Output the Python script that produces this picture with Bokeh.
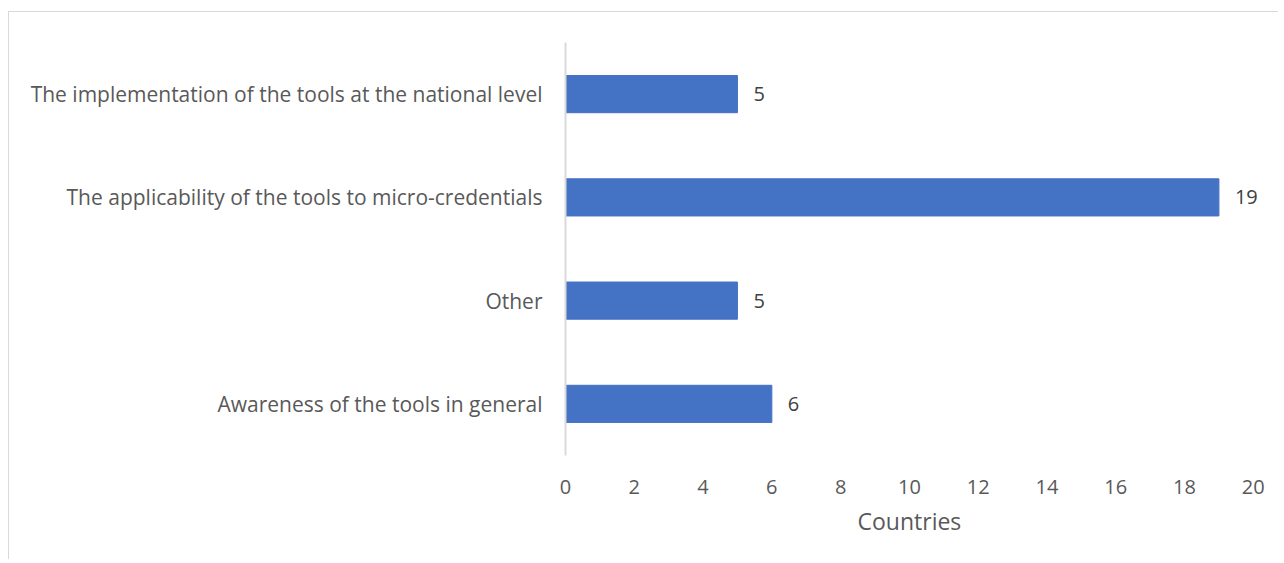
from bokeh.plotting import figure
from bokeh.models import Range1d, FixedTicker, ColumnDataSource, LabelSet, Title
from bokeh.core.properties import value
from bokeh.embed import file_html
from bokeh.resources import INLINE

categories = [
    "Awareness of the tools in general",
    "Other",
    "The applicability of the tools to micro-credentials",
    "The implementation of the tools at the national level",
]
values = [6, 5, 19, 5]
x_ticks = [0, 2, 4, 6, 8, 10, 12, 14, 16, 18, 20]
x_title = "Countries"

FONT = "Open Sans"
GREY = "#595959"

source = ColumnDataSource(dict(cat=categories, val=values, lab=[str(v) for v in values]))

# range slightly beyond 20 so that the "19" label is not clipped by the frame
p = figure(
    y_range=categories,
    x_range=Range1d(0, 20.5),
    width=1270,
    height=548,
    output_backend="svg",
    toolbar_location=None,
    min_border_left=556,
    min_border_right=9,
    min_border_top=30,
    min_border_bottom=105,
)
p.styles = {"margin-left": "8px", "margin-top": "11px",
            "border-top": "1px solid #d9d9d9", "border-left": "1px solid #d9d9d9"}

p.hbar(y="cat", right="val", left=0, height=0.36, source=source,
       fill_color="#4472C4", line_color="#4472C4")

labels = LabelSet(x="val", y="cat", text="lab", source=source,
                  x_offset=16, text_baseline="middle", text_align="left",
                  text_font=value(FONT), text_font_size="20px", text_color="#404040")
p.add_layout(labels)

p.outline_line_color = None
p.xgrid.grid_line_color = None
p.ygrid.grid_line_color = None

p.xaxis.ticker = FixedTicker(ticks=x_ticks)
p.xaxis.axis_line_color = None
p.xaxis.major_tick_line_color = None
p.xaxis.minor_tick_line_color = None
p.xaxis.major_label_text_font = FONT
p.xaxis.major_label_text_font_size = "20px"
p.xaxis.major_label_text_color = GREY
p.xaxis.major_label_standoff = 18

# axis title centred under the 0-20 span (not the padded frame)
xt = Title(text=x_title, align="left", offset=292, standoff=13,
           text_font=FONT, text_font_size="23px", text_font_style="normal",
           text_color=GREY)
p.add_layout(xt, "below")

p.yaxis.axis_line_color = "#d9d9d9"
p.yaxis.axis_line_width = 2
p.yaxis.major_tick_line_color = None
p.yaxis.minor_tick_line_color = None
p.yaxis.major_label_text_font = FONT
p.yaxis.major_label_text_font_size = "21px"
p.yaxis.major_label_text_color = GREY
p.yaxis.major_label_standoff = 17

open("out.html", "w").write(file_html(p, INLINE))
